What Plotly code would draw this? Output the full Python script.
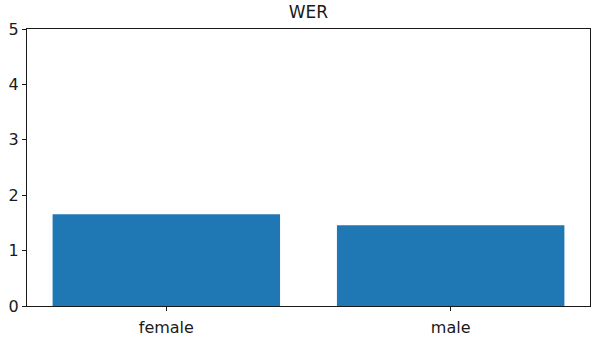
import plotly.graph_objects as go

categories = ["female", "male"]
wer_values = [1.655, 1.457]
y_ticks = [0, 1, 2, 3, 4, 5]

fig = go.Figure()
fig.add_trace(go.Bar(
    x=[0, 1], y=wer_values,
    width=0.8,
    marker=dict(color="#1f77b4", line=dict(width=0)),
    hoverinfo="skip",
))

axis_style = dict(
    showline=True, mirror=True, linecolor="#1a1a1a", linewidth=1.2,
    ticks="outside", ticklen=4, tickwidth=1.2, tickcolor="#1a1a1a",
    showgrid=False, zeroline=False, automargin=False,
    tickfont=dict(family="DejaVu Sans", size=16, color="#1a1a1a"),
)

fig.update_layout(
    width=591, height=341,
    paper_bgcolor="white", plot_bgcolor="white",
    showlegend=False,
    margin=dict(l=27, r=1, t=29, b=35, pad=0),
    title=dict(text="WER", x=0.522, xanchor="center", y=0.966, yanchor="middle",
               font=dict(family="DejaVu Sans", size=17, color="#1a1a1a")),
    xaxis=dict(range=[-0.49, 1.49], tickvals=[0, 1], ticktext=categories,
               ticklabelstandoff=3, **axis_style),
    yaxis=dict(range=[0, 5], tickvals=y_ticks, **axis_style),
)

fig.write_html("out.html", post_script="document.body.style.margin='0';",
               config={"displayModeBar": False})
